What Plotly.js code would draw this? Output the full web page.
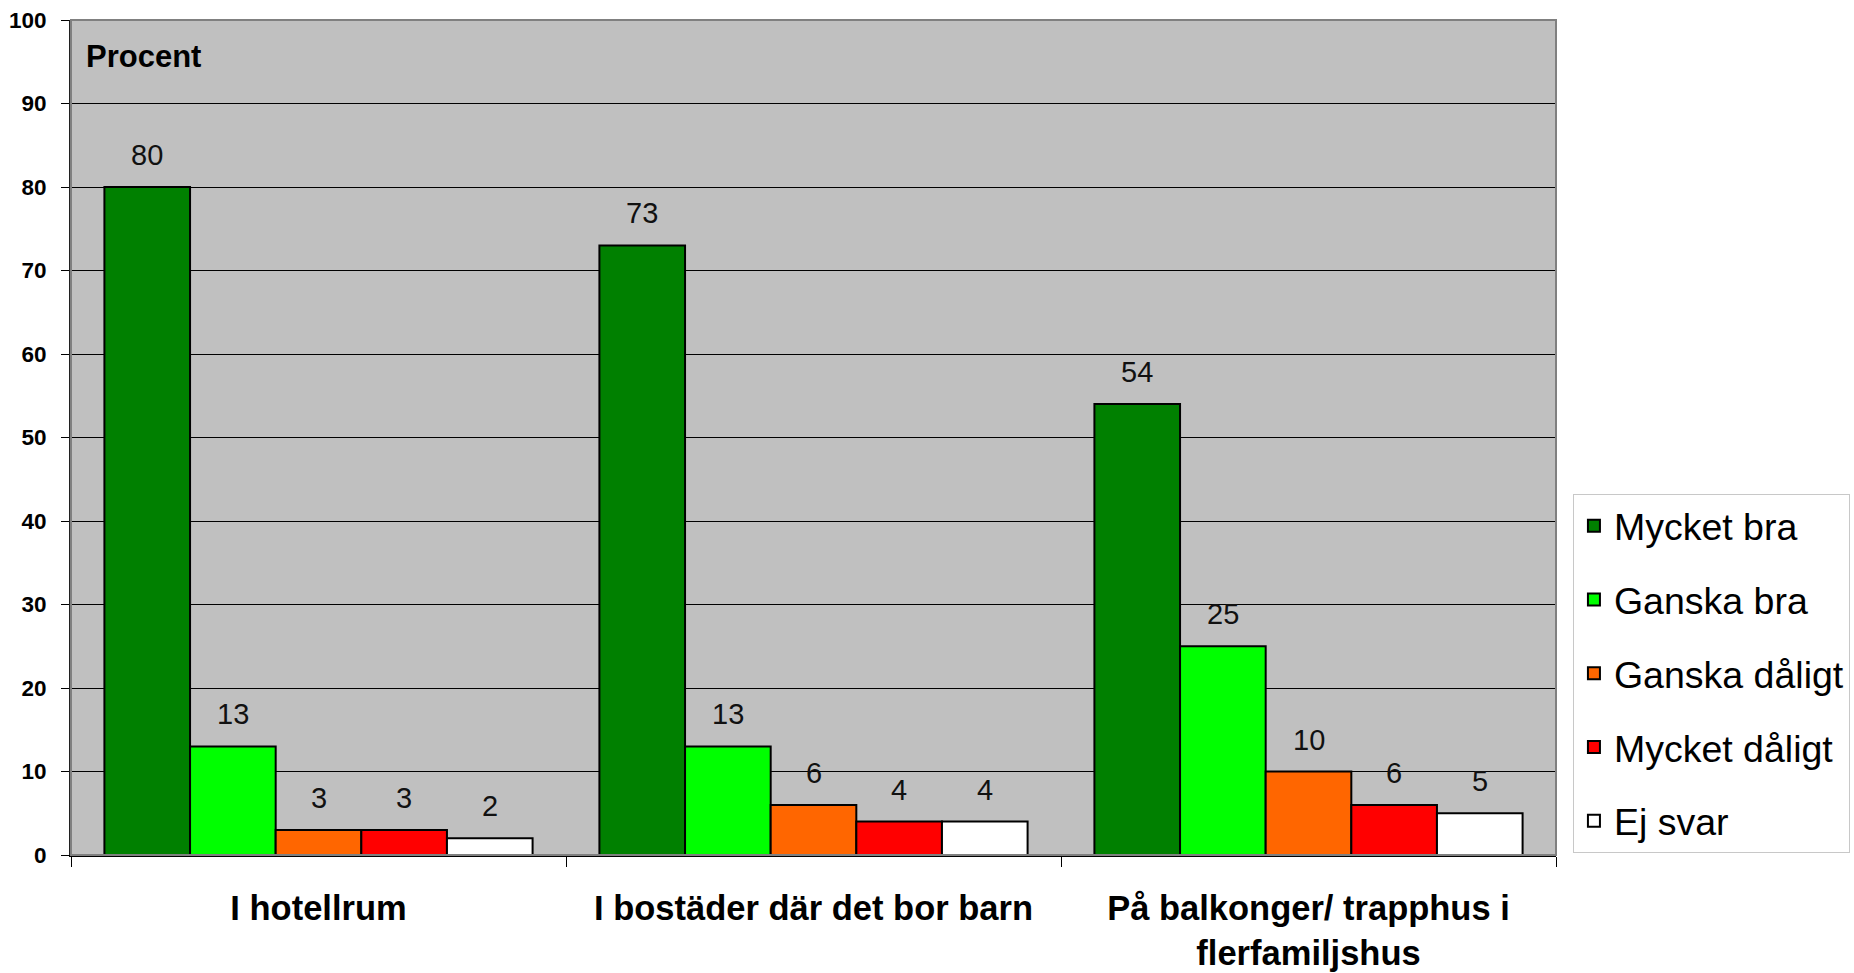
<!DOCTYPE html>
<html>
<head>
<meta charset="utf-8">
<script src="https://cdn.plot.ly/plotly-3.0.1.min.js"></script>
<style>html,body{margin:0;padding:0;background:#fff;}#chart{width:1854px;height:973px;}</style>
</head>
<body>
<div id="chart"></div>
<script>
const categories = ['I hotellrum', 'I bostäder där det bor barn', 'På balkonger/ trapphus i<br>flerfamiljshus'];
const seriesNames = ['Mycket bra', 'Ganska bra', 'Ganska dåligt', 'Mycket dåligt', 'Ej svar'];
const mycketBra = [80, 73, 54];
const ganskaBra = [13, 13, 25];
const ganskaDaligt = [3, 6, 10];
const mycketDaligt = [3, 4, 6];
const ejSvar = [2, 4, 5];
const seriesColors = ['#008000', '#00ff00', '#ff6600', '#ff0000', '#ffffff'];
const yTicks = [0, 10, 20, 30, 40, 50, 60, 70, 80, 90, 100];

const seriesValues = [mycketBra, ganskaBra, ganskaDaligt, mycketDaligt, ejSvar];
const BARGAP = 0.135;
const font = 'Liberation Sans, Arial, sans-serif';

const traces = seriesValues.map((vals, j) => ({
  type: 'bar',
  name: seriesNames[j],
  x: categories,
  y: vals,
  legendgroup: 'g' + j,
  marker: {color: seriesColors[j], line: {color: '#000', width: 2}},
  hoverinfo: 'x+y+name'
}));

const n = seriesValues.length;
const barW = (1 - BARGAP) / n;
const annotations = [];
seriesValues.forEach((vals, j) => {
  vals.forEach((v, i) => {
    annotations.push({
      x: i - (1 - BARGAP) / 2 + barW * (j + 0.5),
      y: v,
      xref: 'x', yref: 'y',
      text: String(v),
      showarrow: false,
      xanchor: 'center', yanchor: 'bottom',
      yshift: 14,
      font: {family: font, size: 29, color: '#111'}
    });
  });
});
annotations.push({
  xref: 'paper', yref: 'paper', x: 0.009, y: 0.956,
  xanchor: 'left', yanchor: 'middle',
  text: 'Procent', showarrow: false,
  font: {family: font, size: 31, weight: 'bold', color: '#000'}
});

const layout = {
  width: 1854, height: 973, autosize: false,
  margin: {l: 71, r: 298, t: 20, b: 118, pad: 0},
  paper_bgcolor: '#ffffff',
  plot_bgcolor: '#c0c0c0',
  barmode: 'group',
  bargap: BARGAP,
  bargroupgap: 0,
  showlegend: true,
  legend: {
    xref: 'container', yref: 'container',
    x: 0.8484, xanchor: 'left', y: 0.4923, yanchor: 'top',
    bgcolor: '#ffffff', bordercolor: '#c8c8c8', borderwidth: 1,
    font: {family: font, size: 37.5, color: '#000'},
    tracegroupgap: 22,
    traceorder: 'grouped'
  },
  xaxis: {
    type: 'category',
    tickson: 'boundaries',
    ticks: 'outside', ticklen: 10, tickcolor: '#000', tickwidth: 1,
    showgrid: false,
    showline: true, linecolor: '#000', linewidth: 2,
    tickfont: {family: font, size: 34.5, weight: 'bold', color: '#000'},
    ticklabelstandoff: 22
  },
  yaxis: {
    range: [0, 100],
    tickvals: yTicks,
    ticktext: yTicks.map(String),
    ticks: 'outside', ticklen: 8, tickcolor: '#000', tickwidth: 1,
    showgrid: true, gridcolor: '#000', gridwidth: 1,
    zeroline: false,
    showline: true, linecolor: '#202020', linewidth: 2,
    tickfont: {family: font, size: 22.5, weight: 'bold', color: '#000'},
    ticklabelstandoff: 10
  },
  shapes: [{
    type: 'rect', xref: 'paper', yref: 'paper', x0: 0, x1: 1, y0: 0, y1: 1,
    line: {color: '#808080', width: 2}, layer: 'above'
  }],
  annotations: annotations
};

Plotly.newPlot('chart', traces, layout, {displayModeBar: false, staticPlot: true});
</script>
</body>
</html>
